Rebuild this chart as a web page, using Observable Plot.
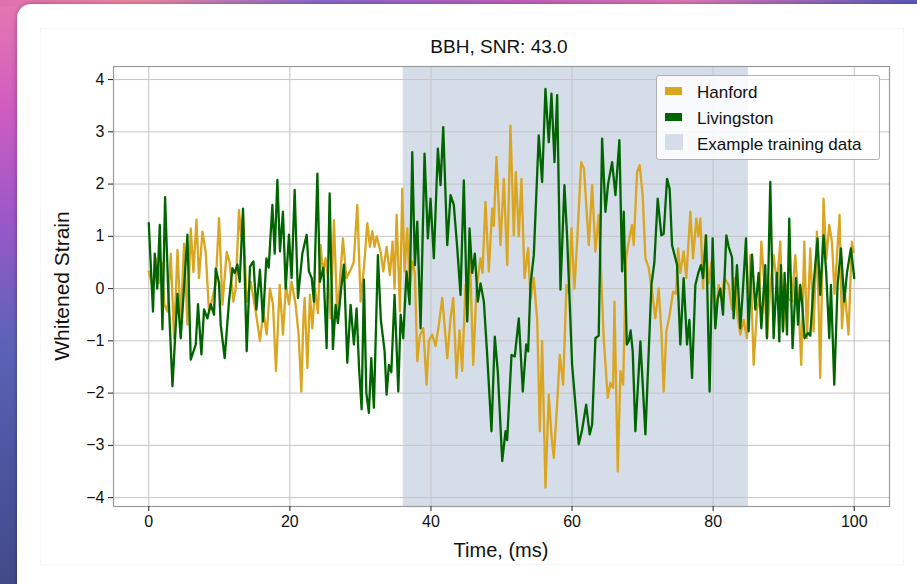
<!DOCTYPE html>
<html><head><meta charset="utf-8">
<script src="https://cdn.jsdelivr.net/npm/d3@7"></script>
<script src="https://cdn.jsdelivr.net/npm/@observablehq/plot@0.6"></script>
<style>
html,body{margin:0;padding:0;width:917px;height:584px;overflow:hidden;}
body{position:relative;background:linear-gradient(180deg,#e678b0 0%,#d05cc0 18%,#9a58c8 38%,#5d62b8 58%,#4a559f 80%,#434a88 100%);font-family:"Liberation Sans",Arial,sans-serif;}
#topband{position:absolute;left:0;top:0;width:917px;height:6px;background:linear-gradient(90deg,#e070b0 0%,#f08aa0 15%,#8a6ad0 35%,#c060c0 55%,#e07ab8 75%,#5a5cc0 100%);}
#card{position:absolute;left:17px;top:4px;width:940px;height:620px;background:#fff;border-radius:14px;box-shadow:0 0 5px rgba(0,0,0,0.35);}
#figedge{position:absolute;left:40px;top:28px;width:862px;height:535px;border:1px solid #f5f5f5;}
#chart{position:absolute;left:0;top:0;}
.txt{position:absolute;color:#111;white-space:nowrap;}
#title{left:349px;width:300px;top:35px;text-align:center;font-size:19px;line-height:24px;}
#xlab{left:401px;width:200px;top:538px;text-align:center;font-size:20px;line-height:24px;}
#ylab{left:-38px;width:200px;top:274px;text-align:center;font-size:21px;line-height:24px;transform:rotate(-90deg);}
#legend{position:absolute;left:656px;top:75px;width:222px;height:83px;border:1px solid #b0b0b0;border-radius:3px;background:rgba(255,255,255,0.85);}
.row{position:absolute;left:0;height:26px;width:222px;}
.sw{position:absolute;left:8px;}
.lt{position:absolute;left:40px;top:2px;font-size:17px;line-height:22px;color:#111;}
</style></head>
<body>
<div id="topband"></div>
<div id="card"></div>
<div id="figedge"></div>
<div id="chart"></div>
<div class="txt" id="title">BBH, SNR: 43.0</div>
<div class="txt" id="xlab">Time, (ms)</div>
<div class="txt" id="ylab">Whitened Strain</div>
<div id="legend">
  <div class="row" style="top:4px"><div class="sw" style="top:7px;width:17px;height:8px;background:#DAA520"></div><div class="lt">Hanford</div></div>
  <div class="row" style="top:30px"><div class="sw" style="top:7px;width:17px;height:8px;background:#006400"></div><div class="lt">Livingston</div></div>
  <div class="row" style="top:56px"><div class="sw" style="top:2px;width:18px;height:16px;background:#d5dde9"></div><div class="lt">Example training data</div></div>
</div>
<script>
// ---- data (time in ms, whitened strain) ----
const hanford = [[0,0.33],[0.57,0.0],[0.99,0.58],[1.4,0.1],[1.84,0.5],[2.2,-0.3],[2.65,-0.44],[3.12,0.67],[3.58,-0.95],[4.07,0.74],[4.53,-0.69],[5.0,0.86],[5.48,-0.69],[5.95,1.15],[6.33,0.32],[6.76,1.32],[7.12,0.2],[7.61,1.09],[8.07,0.7],[8.54,-0.44],[9.0,-0.2],[9.49,0.1],[9.96,1.35],[10.44,-0.31],[11.05,0.7],[11.47,0.5],[11.99,-0.25],[12.32,0.0],[12.79,1.5],[13.1,1.0],[13.36,1.4],[13.88,-0.25],[14.45,0.13],[15.16,-0.44],[15.76,-1.0],[16.25,-0.44],[16.71,-0.88],[17.18,0.0],[17.61,-0.31],[18.03,-1.58],[18.56,0.07],[19.02,-0.88],[19.45,0.07],[19.87,-0.3],[20.25,0.13],[20.82,-0.31],[21.25,-0.9],[21.63,-1.97],[21.91,-0.6],[22.1,-0.18],[22.48,-1.52],[22.85,-0.12],[23.19,-0.76],[23.56,0.0],[23.98,-0.47],[24.36,0.83],[24.69,0.3],[25.07,0.58],[25.42,0.2],[25.78,-0.57],[26.25,1.31],[26.73,-0.57],[27.12,0.2],[27.52,0.96],[28.0,0.2],[28.51,0.33],[29.04,0.5],[29.56,1.6],[30.03,-0.25],[30.5,0.4],[30.98,1.25],[31.35,0.8],[31.69,1.1],[32.0,0.8],[32.3,1.0],[32.86,0.71],[33.24,0.33],[33.71,0.8],[34.18,0.26],[34.56,0.9],[34.84,0.0],[35.13,1.41],[35.6,-0.44],[35.93,1.91],[36.26,0.33],[36.64,1.15],[37.01,0.0],[37.35,0.52],[37.72,0.3],[38.06,-1.39],[38.43,-0.9],[38.91,-0.76],[39.38,-1.84],[39.7,-1.0],[40.18,-0.88],[40.65,-1.1],[41.12,-0.69],[41.6,-0.18],[41.93,-0.7],[42.31,-1.33],[42.78,-0.57],[43.16,-0.18],[43.63,-1.71],[44.05,-0.8],[44.43,-1.58],[44.9,0.07],[45.23,-0.5],[45.51,0.71],[45.99,-1.46],[46.46,0.0],[47.03,0.58],[47.31,0.3],[47.73,1.66],[48.2,0.33],[48.68,1.53],[48.9,1.2],[49.29,2.52],[49.86,0.83],[50.33,2.1],[50.81,0.45],[51.27,3.12],[51.74,1.02],[52.03,2.23],[52.45,1.0],[52.83,2.1],[53.26,0.2],[53.78,0.77],[54.11,-0.2],[54.58,0.2],[55.06,-0.6],[55.43,-2.73],[55.76,-1.0],[56.23,-3.81],[56.7,-2.03],[57.08,-2.8],[57.41,-3.24],[57.89,-2.2],[58.26,-1.27],[58.74,-1.84],[59.21,0.07],[59.56,-0.1],[59.92,1.15],[60.34,0.0],[60.76,1.0],[61.29,2.42],[61.69,2.3],[62.37,0.83],[62.85,1.98],[63.31,0.71],[63.78,1.41],[64.49,-0.95],[65.06,-2.09],[65.44,-1.8],[65.82,-1.9],[66.01,-0.25],[66.48,-3.5],[66.86,-1.58],[67.24,-1.84],[67.66,0.58],[68.03,0.9],[68.51,1.22],[68.74,0.83],[69.22,2.23],[69.59,2.36],[70.01,1.79],[70.4,0.58],[70.86,0.4],[71.34,-0.06],[71.81,-0.57],[72.28,0.0],[72.66,-0.8],[72.99,-1.97],[73.37,-0.82],[73.84,-0.5],[74.32,-0.06],[74.74,-0.1],[75.03,0.77],[75.35,0.3],[75.82,0.71],[76.2,0.2],[76.77,1.47],[77.15,0.58],[77.62,1.34],[77.9,1.0],[78.19,1.34],[78.57,0.0],[78.9,1.02],[79.36,0.1],[79.75,0.5],[80.31,-0.69],[80.78,0.07],[81.16,-0.2],[81.59,0.2],[82.2,0.07],[82.68,-0.4],[83.05,0.2],[83.43,-0.5],[83.85,-0.88],[84.32,-0.6],[84.8,-0.95],[85.27,0.64],[85.74,-1.46],[86.22,-0.4],[86.54,-0.2],[86.83,0.9],[87.15,0.3],[87.63,-0.95],[88.1,0.0],[88.57,0.64],[89.05,0.1],[89.52,0.9],[89.9,-0.82],[90.37,0.07],[90.7,-0.2],[91.17,-0.25],[91.64,0.64],[92.11,-0.3],[92.49,-1.46],[92.92,0.9],[93.3,-0.95],[93.77,0.77],[94.24,-0.82],[94.71,1.09],[95.18,-1.71],[95.65,1.72],[96.03,0.57],[96.46,1.22],[96.84,0.9],[97.21,-0.1],[97.55,0.6],[97.92,1.41],[98.26,-0.76],[98.63,0.0],[99.19,-0.88],[99.67,0.9],[99.9,0.7]];

const livingston = [[0,1.25],[0.6,-0.44],[0.85,0.67],[1.2,0.0],[1.56,1.22],[1.94,-0.78],[2.31,1.75],[2.73,0.07],[3.36,-1.87],[4.07,-0.1],[4.53,-0.95],[5.48,1.03],[5.95,-1.36],[6.66,-1.07],[6.98,-0.3],[7.46,-1.26],[7.83,-0.4],[8.31,-0.57],[8.78,-0.3],[9.25,-0.5],[9.49,0.38],[9.96,0.1],[10.2,-0.7],[10.76,-1.33],[11.37,-0.25],[11.86,0.39],[12.18,0.3],[12.56,0.46],[12.89,0.13],[13.36,1.53],[13.88,-1.2],[14.35,0.42],[14.83,0.52],[15.25,-0.4],[15.76,0.36],[16.19,-0.63],[16.67,0.58],[17.0,0.4],[17.52,1.6],[17.85,0.67],[18.23,2.08],[18.6,0.71],[19.02,1.47],[19.41,0.0],[19.87,1.03],[20.25,0.2],[20.68,1.89],[21.15,-0.18],[21.77,0.67],[22.38,1.03],[22.7,0.33],[23.1,0.2],[23.41,-0.25],[23.9,2.2],[24.26,0.13],[24.75,0.4],[25.21,-1.14],[25.64,1.82],[26.1,-1.16],[26.49,-0.31],[26.81,-0.66],[27.27,0.0],[27.66,0.46],[28.14,-1.42],[28.61,-0.31],[29.08,-1.07],[29.46,-0.38],[29.8,-1.5],[30.17,-2.31],[30.5,0.17],[30.84,-2.0],[31.2,-2.38],[31.54,-1.33],[31.91,-2.28],[32.48,0.64],[32.9,-0.6],[33.43,-1.2],[33.71,-2.03],[34.04,-1.46],[34.38,-1.6],[34.84,-0.12],[35.37,-1.97],[35.7,-0.5],[36.07,-0.95],[36.54,0.33],[36.97,-0.3],[37.35,2.61],[37.72,0.45],[38.06,1.28],[38.53,-0.76],[39.09,2.58],[39.56,0.96],[39.94,1.72],[40.41,0.58],[40.98,2.68],[41.36,1.98],[41.74,3.09],[42.31,0.83],[42.78,1.79],[43.24,1.6],[43.73,0.77],[44.19,-0.12],[44.66,2.07],[45.14,-0.63],[45.47,1.15],[45.85,0.3],[46.22,0.67],[46.64,-0.25],[47.03,0.1],[47.5,-0.25],[47.97,-1.27],[48.58,-2.73],[49.05,-0.92],[49.48,-1.6],[50.1,-3.3],[50.57,-2.73],[50.8,-2.9],[51.42,-1.27],[51.88,-1.3],[52.45,-0.57],[53.02,-1.97],[53.5,-1.07],[53.78,-1.2],[54.11,0.07],[54.58,0.64],[55.28,2.93],[55.76,2.04],[56.23,3.82],[56.7,2.8],[57.08,3.73],[57.51,2.42],[57.89,3.7],[58.36,-0.02],[58.92,1.98],[59.3,1.0],[60.01,-1.46],[60.95,-2.98],[61.43,-2.7],[62.0,-2.22],[62.5,-2.79],[62.85,-2.6],[63.31,-0.95],[63.78,-0.9],[64.26,2.87],[64.73,1.47],[65.11,2.0],[65.68,2.42],[66.15,1.79],[66.71,2.84],[67.1,0.33],[67.33,1.47],[67.76,-1.07],[68.04,-1.0],[68.3,-0.8],[68.6,-1.2],[68.98,-2.73],[69.69,-1.01],[70.4,-2.79],[71.25,0.07],[71.67,0.5],[72.14,1.72],[72.66,1.02],[72.99,1.05],[73.47,2.1],[73.84,1.9],[74.18,0.83],[74.89,0.45],[75.35,-1.07],[75.82,0.2],[76.3,-1.07],[76.63,-0.6],[77.01,-1.71],[77.48,0.07],[77.9,0.3],[78.26,0.45],[78.57,0.2],[79.0,1.02],[79.5,-1.97],[79.93,0.96],[80.31,-0.76],[80.64,-0.2],[81.02,0.0],[81.4,-0.5],[81.87,1.02],[82.2,0.8],[82.68,0.6],[82.9,-0.57],[83.38,0.45],[83.85,-0.76],[84.23,0.0],[84.66,0.96],[85.03,-0.82],[85.51,0.65],[85.98,-0.4],[86.45,0.3],[86.83,-0.76],[87.39,0.45],[87.63,-0.95],[88.1,2.04],[88.57,-0.95],[89.05,0.3],[89.38,-1.01],[89.6,0.45],[89.9,-0.82],[90.13,0.3],[90.47,-0.88],[90.79,1.34],[91.26,-1.14],[91.74,0.2],[92.03,-0.69],[92.35,0.07],[92.63,-0.3],[92.96,-0.95],[93.44,-0.85],[93.77,-0.9],[94.24,0.07],[94.8,0.96],[95.18,-0.12],[95.65,1.02],[96.03,0.3],[96.46,-0.95],[96.7,0.07],[97.17,-1.84],[97.64,0.07],[98.12,0.77],[98.58,-0.25],[98.97,0.3],[99.53,0.77],[100,0.2]];

const trainingWindow = [36.07, 85.0];
const xTicks = [0, 20, 40, 60, 80, 100];
const yTicks = [-4, -3, -2, -1, 0, 1, 2, 3, 4];

const hData = hanford.map(([t, v]) => ({t, v}));
const lData = livingston.map(([t, v]) => ({t, v}));
const shade = [{x1: trainingWindow[0], x2: trainingWindow[1]}];
const fmt = d => d < 0 ? "\u2212" + Math.abs(d) : String(d);

const chart = Plot.plot({
  width: 917, height: 584,
  marginLeft: 113, marginRight: 28, marginTop: 66, marginBottom: 78,
  style: {background: "transparent", fontFamily: "'Liberation Sans', Arial, sans-serif", fontSize: "16px", color: "#111", overflow: "visible"},
  x: {domain: [-5, 105]},
  y: {domain: [-4.17, 4.25]},
  marks: [
    Plot.rect(shade, {x1: "x1", x2: "x2", fill: "#d5dde9"}),
    Plot.gridX(xTicks, {stroke: "#c4c4c4", strokeOpacity: 1, strokeWidth: 1}),
    Plot.gridY(yTicks, {stroke: "#c4c4c4", strokeOpacity: 1, strokeWidth: 1}),
    Plot.line(hData, {x: "t", y: "v", stroke: "#DAA520", strokeWidth: 2.3, curve: "linear"}),
    Plot.line(lData, {x: "t", y: "v", stroke: "#006400", strokeWidth: 2.3, curve: "linear"}),
    Plot.frame({stroke: "#9a9a9a", strokeWidth: 1.2}),
    Plot.axisX(xTicks, {tickSize: 5, tickPadding: 4, label: null, stroke: "#222", fontSize: 16, tickFormat: fmt}),
    Plot.axisY(yTicks, {tickSize: 5, tickPadding: 4, label: null, stroke: "#222", fontSize: 16, tickFormat: fmt})
  ]
});
document.getElementById("chart").appendChild(chart);
</script>
</body></html>
